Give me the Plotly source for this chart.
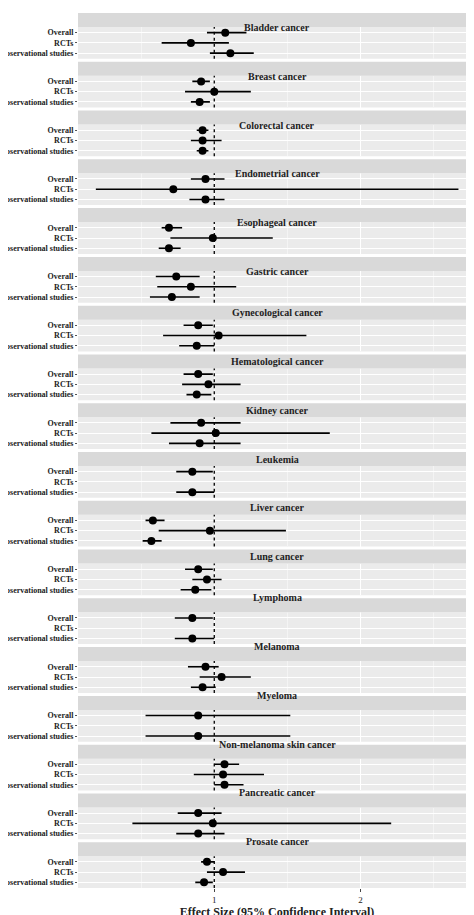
import plotly.graph_objects as go

cancers = ["Bladder cancer", "Breast cancer", "Colorectal cancer", "Endometrial cancer",
           "Esophageal cancer", "Gastric cancer", "Gynecological cancer", "Hematological cancer",
           "Kidney cancer", "Leukemia", "Liver cancer", "Lung cancer", "Lymphoma", "Melanoma",
           "Myeloma", "Non-melanoma skin cancer", "Pancreatic cancer", "Prosate cancer"]
groups = ["Overall", "RCTs", "Observational studies"]

# effect size, lower, upper for Overall / RCTs / Observational (None = not available)
overall_es = [1.075, 0.91, 0.92, 0.94, 0.69, 0.74, 0.89, 0.89, 0.91, 0.85, 0.58, 0.89, 0.85, 0.94, 0.89, 1.07, 0.89, 0.95]
overall_lo = [0.95, 0.85, 0.88, 0.84, 0.64, 0.60, 0.79, 0.79, 0.70, 0.74, 0.53, 0.80, 0.73, 0.82, 0.53, 1.00, 0.75, 0.91]
overall_hi = [1.22, 0.97, 0.96, 1.07, 0.78, 0.90, 0.99, 0.99, 1.18, 0.99, 0.66, 0.99, 0.99, 1.03, 1.52, 1.17, 1.05, 1.00]
rct_es = [0.84, 1.00, 0.92, 0.72, 0.99, 0.84, 1.03, 0.96, 1.01, None, 0.97, 0.95, None, 1.05, None, 1.06, 0.99, 1.06]
rct_lo = [0.64, 0.80, 0.84, 0.19, 0.70, 0.61, 0.65, 0.78, 0.57, None, 0.62, 0.85, None, 0.90, None, 0.86, 0.44, 0.95]
rct_hi = [1.10, 1.25, 1.05, 2.67, 1.40, 1.15, 1.63, 1.18, 1.79, None, 1.49, 1.05, None, 1.25, None, 1.34, 2.21, 1.21]
obs_es = [1.11, 0.90, 0.92, 0.94, 0.69, 0.71, 0.88, 0.88, 0.90, 0.85, 0.57, 0.87, 0.85, 0.92, 0.89, 1.07, 0.89, 0.93]
obs_lo = [0.97, 0.84, 0.88, 0.83, 0.62, 0.56, 0.76, 0.81, 0.69, 0.74, 0.51, 0.77, 0.73, 0.84, 0.53, 1.00, 0.74, 0.87]
obs_hi = [1.27, 0.97, 0.96, 1.07, 0.77, 0.90, 1.00, 0.98, 1.18, 1.00, 0.64, 0.98, 1.00, 1.01, 1.52, 1.20, 1.07, 0.99]

W, H = 474, 915
top, bot = 5, 32
n = len(cancers)
pitch = (H - top - bot) / n
strip_h, gap = 14, 3
font = dict(family="Liberation Serif", color="#222")

fig = go.Figure()
layout = dict(width=W, height=H, margin=dict(l=70, r=6, t=top, b=bot, autoexpand=False),
              plot_bgcolor="white", paper_bgcolor="white", showlegend=False, shapes=[], annotations=[])

for i, c in enumerate(cancers):
    k = "" if i == 0 else str(i + 1)
    y0 = H - top - i * pitch - strip_h
    y1 = y0 - (pitch - strip_h - gap)
    d0, d1 = (y1 - bot) / (H - top - bot), (y0 - bot) / (H - top - bot)
    es = [overall_es[i], rct_es[i], obs_es[i]]
    lo = [overall_lo[i], rct_lo[i], obs_lo[i]]
    hi = [overall_hi[i], rct_hi[i], obs_hi[i]]
    xs, ys, em, ep = [], [], [], []
    for j in range(3):
        if es[j] is not None:
            xs.append(es[j]); ys.append(3 - j)
            em.append(es[j] - lo[j]); ep.append(hi[j] - es[j])
    fig.add_trace(go.Scatter(x=xs, y=ys, mode="markers", xaxis="x" + k, yaxis="y" + k,
                             marker=dict(color="black", size=8),
                             error_x=dict(type="data", array=ep, arrayminus=em, width=0,
                                          color="black", thickness=1.6)))
    last = i == n - 1
    layout["xaxis" + k] = dict(domain=[0, 1], anchor="y" + k, range=[0.068, 2.79],
                               tickvals=[1, 2], showticklabels=last, ticks="outside" if last else "",
                               ticklen=3, automargin=False,
                               gridcolor="white", gridwidth=1.2, minor=dict(tickvals=[0.5, 1.5, 2.5], showgrid=True, gridcolor="#f4f4f4"),
                               zeroline=False, showline=False, tickfont=dict(size=9, **font),
                               matches=None if i == 0 else "x")
    if last:
        layout["xaxis" + k]["title"] = dict(text="<b>Effect Size (95% Confidence Interval)</b>",
                                            font=dict(size=12, **font), standoff=0)
    layout["yaxis" + k] = dict(domain=[d0, d1], anchor="x" + k, range=[0.45, 3.55], automargin=False,
                               tickvals=[3, 2, 1], ticktext=["<b>%s</b>" % g for g in groups],
                               gridcolor="white", gridwidth=1.2, zeroline=False,
                               tickfont=dict(size=8, **font), ticklen=2, ticks="outside", tickcolor="#555")
    layout["shapes"].append(dict(type="rect", xref="x" + k + " domain", yref="y" + k + " domain",
                                 x0=0, x1=1, y0=0, y1=1, fillcolor="#ebebeb", line_width=0, layer="below"))
    layout["shapes"].append(dict(type="rect", xref="paper", yref="paper", x0=0, x1=1,
                                 y0=d1, y1=d1 + strip_h / (H - top - bot),
                                 fillcolor="#d9d9d9", line_width=0))
    layout["shapes"].append(dict(type="line", xref="x" + k, yref="y" + k + " domain", x0=1, x1=1,
                                 y0=0, y1=1, line=dict(color="black", width=1.3, dash="3px,3px")))
    layout["annotations"].append(dict(text="<b>%s</b>" % c, xref="paper", yref="paper", x=0.5,
                                      y=d1 + strip_h / 2 / (H - top - bot), showarrow=False,
                                      font=dict(size=10, **font)))

fig.update_layout(**layout)
fig.write_html("out.html")
